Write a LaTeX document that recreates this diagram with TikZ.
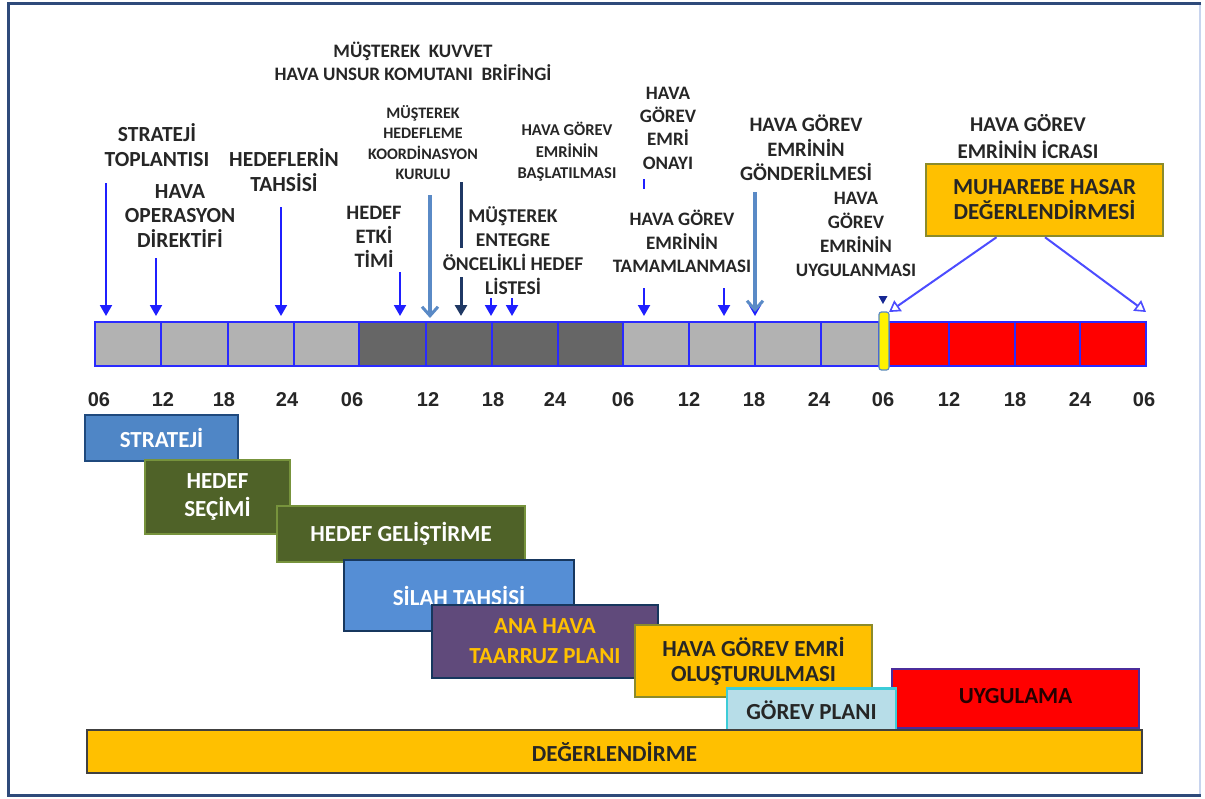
\documentclass[tikz,border=0pt]{standalone}
\usepackage{fontspec}
\setmainfont{Carlito}
\newfontfamily\numfont{Liberation Sans}
\usetikzlibrary{arrows.meta}

\definecolor{labeltext}{HTML}{262626}
\definecolor{framenavy}{HTML}{2E4A7A}
\definecolor{framelight}{HTML}{C8D4EE}
\definecolor{arrowblue}{HTML}{1F1FFF}
\definecolor{steelarrow}{HTML}{5A8AC6}
\definecolor{navyline}{HTML}{1F3864}
\definecolor{cellline}{HTML}{2A2AFF}
\definecolor{cellL}{HTML}{B2B2B2}
\definecolor{cellD}{HTML}{666666}
\definecolor{cellR}{HTML}{FF0000}
\definecolor{gold}{HTML}{FFC000}
\definecolor{olivedge}{HTML}{8B8B2B}
\definecolor{stratfill}{HTML}{4F86C6}
\definecolor{stratedge}{HTML}{1F497D}
\definecolor{greenfill}{HTML}{4F6228}
\definecolor{greenedge}{HTML}{77933C}
\definecolor{silahfill}{HTML}{558ED5}
\definecolor{darkteal}{HTML}{17375E}
\definecolor{purplefill}{HTML}{604A7B}
\definecolor{planfill}{HTML}{B7DDE8}
\definecolor{planedge}{HTML}{3CCCD8}
\definecolor{uygedge}{HTML}{4B2C9B}
\definecolor{grayedge}{HTML}{404040}

\tikzset{
  lbl/.style 2 args={font=\bfseries\fontsize{#1}{#2}\selectfont, align=center,
    inner sep=0pt, text=labeltext},
  tick/.style={font=\numfont\bfseries\fontsize{20}{22}\selectfont, inner sep=0pt,
    text=labeltext},
  downarrow/.style={draw=arrowblue, line width=2pt,
    -{Triangle[width=12pt,length=11pt]}},
  steelarrowstyle/.style={draw=steelarrow, line width=4pt,
    -{Straight Barb[width=16pt,length=9pt,line width=3pt]}},
  cell/.style={draw=cellline, line width=2pt},
  gbox/.style={line width=2.5pt, inner sep=0pt, align=center,
    font=\bfseries\fontsize{23}{27}\selectfont},
  openarrow/.style={draw=arrowblue!80!white, line width=2pt,
    -{Triangle[open, fill=white, width=13pt, length=11pt, line width=1.6pt]}},
}

\begin{document}
\begin{tikzpicture}[x=1pt, y=-1pt]
\useasboundingbox (0,0) rectangle (1205,798);
\fill[white] (0,0) rectangle (1205,798);

% outer frame
\draw[framelight, line width=2pt] (1200,3) -- (1200,795);
\draw[framenavy, line width=3pt] (1201,3) -- (8.5,3) -- (8.5,795.5) -- (1201,795.5);

% ---------- time bar ----------
\foreach \a/\b/\c in {95/161/cellL, 161/228/cellL, 228/294/cellL, 294/359/cellL,
                     359/426/cellD, 426/492/cellD, 492/558/cellD, 558/623/cellD,
                     623/689/cellL, 689/755/cellL, 755/821/cellL, 821/879/cellL,
                     889/949/cellR, 949/1015/cellR, 1015/1080/cellR, 1080/1146/cellR}
  \filldraw[cell, fill=\c] (\a,322) rectangle (\b,366);
\filldraw[fill=yellow, draw=steelarrow, line width=1.2pt, rounded corners=2.5pt]
  (879,312) rectangle (889,370);

% hour ticks
\foreach \x/\t [count=\i] in {99/06, 163/12, 224/18, 287/24, 352/06, 428/12, 493/18,
                              555/24, 623/06, 689/12, 754/18, 819/24, 883/06, 949/12,
                              1015/18, 1080/24, 1144/06}
  \node[tick] (tk\i) at (\x,400) {\t};

% ---------- milestone labels ----------
\node[lbl={19}{23}] (brief) at (413,61.5) {MÜŞTEREK\ \ KUVVET\\HAVA UNSUR KOMUTANI\ \ BRİFİNGİ};
\node[lbl={21.5}{25}] (strat) at (157,145.5) {STRATEJİ\\TOPLANTISI};
\node[lbl={21.5}{24.5}] (hod) at (180,216) {HAVA\\OPERASYON\\DİREKTİFİ};
\node[lbl={21.5}{25}] (htah) at (284,170) {HEDEFLERİN\\TAHSİSİ};
\node[lbl={16}{20.5}] (mhkk) at (423,142.5) {MÜŞTEREK\\HEDEFLEME\\KOORDİNASYON\\KURULU};
\node[lbl={16.5}{21.5}] (hgbas) at (567,152) {HAVA GÖREV\\EMRİNİN\\BAŞLATILMASI};
\node[lbl={20.5}{24}] (het) at (374,236.5) {HEDEF\\ETKİ\\TİMİ};
\node[lbl={19.5}{24}] (meohl) at (513,251) {MÜŞTEREK\\ENTEGRE\\ÖNCELİKLİ HEDEF\\LİSTESİ};
\node[lbl={19}{23.3}] (hgeo) at (668,128) {HAVA\\GÖREV\\EMRİ\\ONAYI};
\node[lbl={19}{23.5}] (hgtam) at (682,241.5) {HAVA GÖREV\\EMRİNİN\\TAMAMLANMASI};
\node[lbl={20.5}{24.5}] (hggon) at (806,148) {HAVA GÖREV\\EMRİNİN\\GÖNDERİLMESİ};
\node[lbl={19}{24}] (hguyg) at (856,234) {HAVA\\GÖREV\\EMRİNİN\\UYGULANMASI};
\node[lbl={21}{27}] (hgicr) at (1028,136.5) {HAVA GÖREV\\EMRİNİN İCRASI};

\node[gbox, fill=gold, draw=olivedge, text=labeltext, minimum width=237, minimum height=72,
      font=\bfseries\fontsize{23}{25}\selectfont] (mhd) at (1044.5,200)
      {MUHAREBE HASAR\\DEĞERLENDİRMESİ};

% ---------- arrows onto the time bar ----------
\foreach \x/\y [count=\i] in {106/183, 156/258, 281/207, 400/272, 491/298, 512/298,
                             644/288, 724/288, 755/300}
{
  \coordinate (s\i) at (\x,\y);
  \coordinate (e\i) at (\x,316);
  \draw[downarrow] (s\i) -- (e\i);
}
% coordination board arrow
\coordinate (kkS) at (430,195);
\coordinate (kkE) at (430,318);
\draw[steelarrowstyle] (kkS) -- (kkE);
% priority list: broken navy line
\coordinate (plA) at (461,182);
\coordinate (plB) at (461,248);
\coordinate (plC) at (461,277);
\coordinate (plD) at (461,316);
\draw[navyline, line width=3pt] (plA) -- (plB);
\draw[navyline, line width=3pt, -{Triangle[width=12pt,length=11pt]}] (plC) -- (plD);
% order release arrow
\coordinate (gnS) at (755,192);
\coordinate (gnE) at (755,312);
\draw[steelarrowstyle] (gnS) -- (gnE);
% approval tick
\coordinate (onA) at (644,179);
\coordinate (onB) at (644,189);
\draw[arrowblue, line width=2.5pt] (onA) -- (onB);
% execution start marker
\coordinate (mk) at (883,304);
\fill[navyline!70!blue] (mk) -- ++(-4.5,-8) -- ++(9,0) -- cycle;

% assessment arrows
\coordinate (mhdL) at (889,312);
\coordinate (mhdR) at (1146,312);
\draw[openarrow] ([xshift=-48pt]mhd.south) -- (mhdL);
\draw[openarrow] ([xshift=0.5pt]mhd.south) -- (mhdR);

% ---------- phase boxes ----------
\node[gbox, fill=stratfill, draw=stratedge, text=white, minimum width=153, minimum height=46]
  (bstrat) at (161.5,438) {STRATEJİ};
\node[gbox, fill=greenfill, draw=greenedge, text=white, minimum width=145, minimum height=74,
      font=\bfseries\fontsize{23}{28}\selectfont]
  (bsecim) at (217.5,497) {HEDEF\\SEÇİMİ};
\node[gbox, fill=greenfill, draw=greenedge, text=white, minimum width=248, minimum height=56]
  (bgelis) at (401,534) {HEDEF GELİŞTİRME};
\node[gbox, fill=silahfill, draw=darkteal, text=white, minimum width=230, minimum height=71]
  (bsilah) at (459,595.5) {SİLAH TAHSİSİ};
\node[gbox, fill=purplefill, draw=darkteal, text=gold, minimum width=226, minimum height=73,
      font=\bfseries\fontsize{23}{30}\selectfont]
  (bana) at (545,641.5) {ANA HAVA\\TAARRUZ PLANI};
\node[gbox, fill=gold, draw=olivedge, text=labeltext, minimum width=237, minimum height=72,
      font=\bfseries\fontsize{23}{25}\selectfont]
  (bhge) at (753.5,661) {HAVA GÖREV EMRİ\\OLUŞTURULMASI};
\node[gbox, fill=cellR, draw=uygedge, text=black!85!red, minimum width=247, minimum height=59,
      text depth=6pt]
  (buyg) at (1015.5,698.5) {UYGULAMA};
\node[gbox, fill=planfill, draw=planedge, text=labeltext, minimum width=169, minimum height=43]
  (bplan) at (811.5,710) {GÖREV PLANI};
\node[gbox, fill=gold, draw=grayedge, text=labeltext, minimum width=1055, minimum height=43]
  (bdeg) at (614.5,751.5) {DEĞERLENDİRME};

\end{tikzpicture}
\end{document}
